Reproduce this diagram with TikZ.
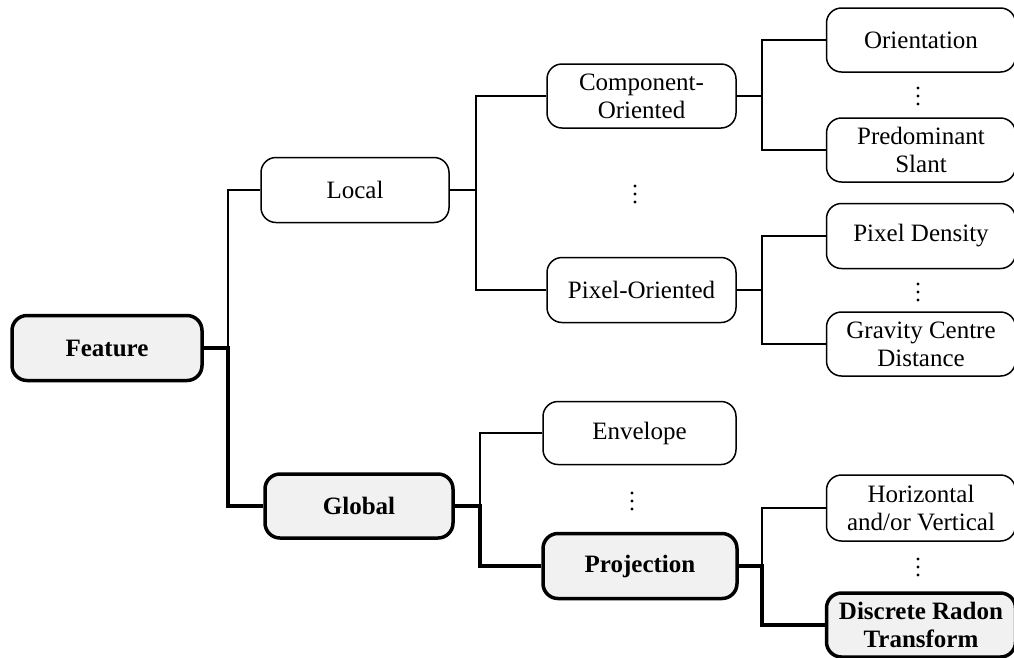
\documentclass[tikz,border=0pt]{standalone}
\usepackage{fontspec}
\setmainfont{Liberation Serif}
\definecolor{boxfill}{RGB}{241,241,241}
\begin{document}
\begin{tikzpicture}[x=1pt,y=-1pt,
  box/.style={draw=black, line width=1.5pt, rounded corners=15pt, fill=white,
    minimum width=189pt, minimum height=65pt, inner sep=0pt, align=center,
    font=\fontsize{25}{28}\selectfont},
  keybox/.style={box, line width=3.5pt, fill=boxfill,
    font=\fontsize{25}{28}\selectfont\bfseries},
  link/.style={draw=black, line width=1.5pt},
  keylink/.style={draw=black, line width=3.5pt},
  dotfill/.style={fill=black}]
\useasboundingbox (0,0) rectangle (1014,657);

% root and first level
\node[keybox, minimum width=190pt] (feat) at (107,348) {Feature};
\node[box, minimum width=188pt] (local) at (355,190) {Local};
\node[keybox, minimum width=188pt, minimum height=64pt] (global) at (359,506) {Global};

% second level
\node[box, minimum height=64pt] (comp) at (641.5,96) {Component-\\Oriented};
\node[box] (pix) at (641.5,290) {Pixel-Oriented};
\node[box, minimum width=193pt, minimum height=63pt] (env) at (639.5,433) {Envelope};
\node[keybox, minimum width=194pt] (proj) at (640,566) {Projection};

% leaves
\node[box, minimum height=64pt] (orient) at (921,40) {Orientation};
\node[box, minimum height=64pt] (slant) at (921,150) {Predominant\\Slant};
\node[box] (dens) at (921,236) {Pixel Density};
\node[box, minimum height=64pt] (grav) at (921,344) {Gravity Centre\\Distance};
\node[box, minimum height=66pt] (horiz) at (921,508) {Horizontal\\and/or Vertical};
\node[keybox, minimum height=64pt] (radon) at (921,625) {Discrete Radon\\Transform};

% junction points of the tree
\coordinate (jf) at (228,348);
\coordinate (jl) at (476,190);
\coordinate (jg) at (480,506);
\coordinate (jc) at (762,96);
\coordinate (jp) at (762,290);
\coordinate (jr) at (762,566);

% ordinary branches
\draw[link] (feat.east) -- (jf) |- (local.west);
\draw[link] (local.east) -- (jl) |- (comp.west);
\draw[link] (jl) |- (pix.west);
\draw[link] (global.east) -- (jg) |- (env.west);
\draw[link] (comp.east) -- (jc) |- (orient.west);
\draw[link] (jc) |- (slant.west);
\draw[link] (pix.east) -- (jp) |- (dens.west);
\draw[link] (jp) |- (grav.west);
\draw[link] (proj.east) -- (jr) |- (horiz.west);

% highlighted path
\draw[keylink] (feat.east) -- (jf) |- (global.west);
\draw[keylink] (global.east) -- (jg) |- (proj.west);
\draw[keylink] (proj.east) -- (jr) |- (radon.west);

% vertical ellipses
\foreach \x/\y in {635/194, 632/501, 918/96, 918/292, 918/567}
  \foreach \d in {-8,0,8}
    \fill[dotfill] (\x,\y+\d) circle (1.7pt);
\end{tikzpicture}
\end{document}
